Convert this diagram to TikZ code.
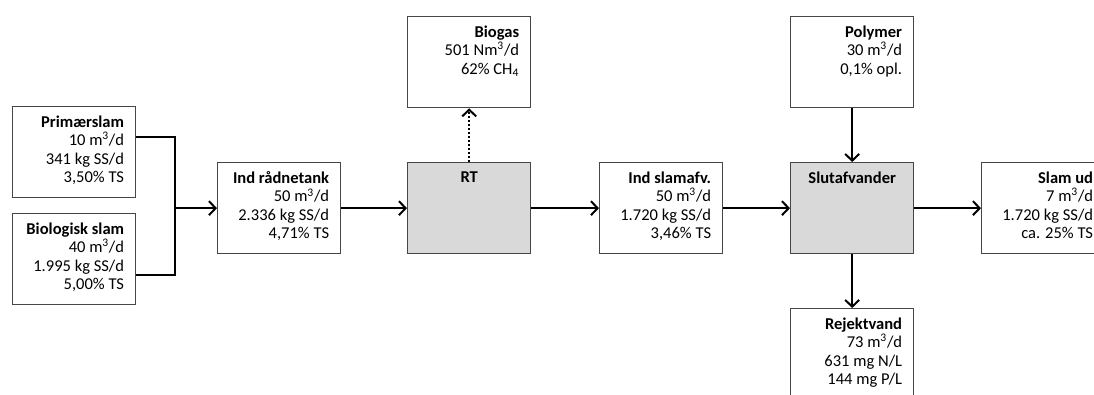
\documentclass[tikz,border=0pt]{standalone}
\usepackage{fontspec}
\setmainfont{Carlito}
\usetikzlibrary{arrows.meta,calc,positioning}
\definecolor{unitgrey}{RGB}{217,217,217}
\definecolor{edgegrey}{RGB}{70,70,70}

\begin{document}
\begin{tikzpicture}[x=0.75pt, y=-0.75pt,
      stream/.style={draw=edgegrey, fill=white, line width=1pt, minimum width=92.25pt, minimum height=68.25pt, anchor=north west, inner sep=0pt},
      unit/.style={stream, fill=unitgrey},
      info/.style={anchor=north east, align=right, inner sep=0pt, font=\fontsize{12.4}{13.8}\selectfont},
      head/.style={anchor=north, inner sep=0pt, font=\fontsize{12.4}{13.8}\selectfont\bfseries},
      flow/.style={-{Straight Barb[length=5pt,width=10.5pt]}, line width=1.5pt}
    ]
      \clip (0,0) rectangle (1094,394);

      % Inlet sludge streams
      \node[stream] (prim) at (12,106) {};
      \node[info] at ([shift={(-9pt,-7pt)}]prim.north east) {\textbf{Primærslam}\\10 m\textsuperscript{3}/d\\341 kg SS/d\\3,50\% TS};
      \node[stream] (bio) at (12,213) {};
      \node[info] at ([shift={(-9pt,-7pt)}]bio.north east) {\textbf{Biologisk slam}\\40 m\textsuperscript{3}/d\\1.995 kg SS/d\\5,00\% TS};

      % Digester line
      \node[stream] (indrt) at (217,162) {};
      \node[info] at ([shift={(-9pt,-7pt)}]indrt.north east) {\textbf{Ind rådnetank}\\50 m\textsuperscript{3}/d\\2.336 kg SS/d\\4,71\% TS};
      \node[unit] (rt) at (407,162) {};
      \node[head] at ([yshift=-7pt]rt.north) {RT};
      \node[stream] (biogas) at (407,16) {};
      \node[info] at ([shift={(-9pt,-7pt)}]biogas.north east) {\textbf{Biogas}\\501 Nm\textsuperscript{3}/d\\62\% CH\textsubscript{4}};

      % Dewatering line
      \node[stream] (indsa) at (599,162) {};
      \node[info] at ([shift={(-9pt,-7pt)}]indsa.north east) {\textbf{Ind slamafv.}\\50 m\textsuperscript{3}/d\\1.720 kg SS/d\\3,46\% TS};
      \node[unit] (slut) at (790,162) {};
      \node[head] at ([yshift=-7pt]slut.north) {Slutafvander};
      \node[stream] (poly) at (790,16) {};
      \node[info] at ([shift={(-9pt,-7pt)}]poly.north east) {\textbf{Polymer}\\30 m\textsuperscript{3}/d\\0,1\% opl.};
      \node[stream] (slamud) at (981,162) {};
      \node[info] at ([shift={(-9pt,-7pt)}]slamud.north east) {\textbf{Slam ud}\\7 m\textsuperscript{3}/d\\1.720 kg SS/d\\ca. 25\% TS};
      \node[stream] (rejekt) at (790,308) {};
      \node[info] at ([shift={(-9pt,-7pt)}]rejekt.north east) {\textbf{Rejektvand}\\73 m\textsuperscript{3}/d\\631 mg N/L\\144 mg P/L};

      % Connectors
      \coordinate (join) at ($(indrt.west)+(-42,0)$);
      \draw[line width=1.5pt] ([yshift=11.5pt]prim.east) -| (join);
      \draw[line width=1.5pt] ([yshift=-11.5pt]bio.east) -| (join);
      \draw[flow] (join) -- (indrt.west);
      \draw[flow] (indrt) -- (rt);
      \draw[flow, dash pattern=on 1.5pt off 1.5pt] (rt) -- (biogas);
      \draw[flow] (rt) -- (indsa);
      \draw[flow] (indsa) -- (slut);
      \draw[flow] (poly) -- (slut);
      \draw[flow] (slut) -- (slamud);
      \draw[flow] (slut) -- (rejekt);
    \end{tikzpicture}
\end{document}
